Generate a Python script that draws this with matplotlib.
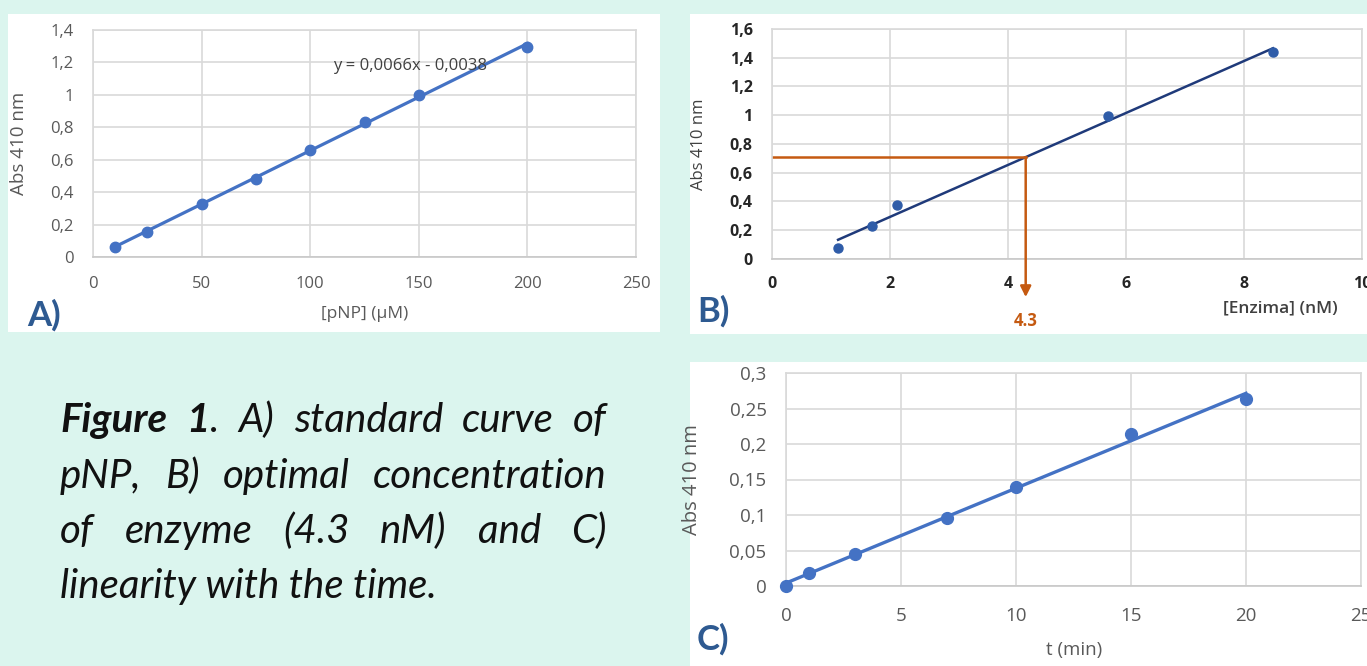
import numpy as np
import matplotlib
matplotlib.use("Agg")
import matplotlib.pyplot as plt
from matplotlib.patches import Rectangle

# A) pNP standard curve
pnp_conc = [10, 25, 50, 75, 100, 125, 150, 200]
pnp_abs = [0.060, 0.152, 0.327, 0.481, 0.660, 0.833, 0.997, 1.293]
pnp_slope = 0.0066
pnp_intercept = -0.0038
pnp_equation = "y = 0,0066x - 0,0038"
pnp_xticks = [0, 50, 100, 150, 200, 250]
pnp_yticks = [0, 0.2, 0.4, 0.6, 0.8, 1.0, 1.2, 1.4]
pnp_yticklabels = ["0", "0,2", "0,4", "0,6", "0,8", "1", "1,2", "1,4"]

# B) enzyme concentration
enz_conc = [1.12, 1.69, 2.12, 5.69, 8.49]
enz_abs = [0.077, 0.230, 0.373, 0.993, 1.438]
enz_optimal = 4.3
enz_xticks = [0, 2, 4, 6, 8, 10]
enz_yticks = [0, 0.2, 0.4, 0.6, 0.8, 1.0, 1.2, 1.4, 1.6]
enz_yticklabels = ["0", "0,2", "0,4", "0,6", "0,8", "1", "1,2", "1,4", "1,6"]

# C) linearity with time
time_min = [0, 1, 3, 7, 10, 15, 20]
time_abs = [0.000, 0.0187, 0.0455, 0.0962, 0.139, 0.214, 0.264]
time_xticks = [0, 5, 10, 15, 20, 25]
time_yticks = [0, 0.05, 0.10, 0.15, 0.20, 0.25, 0.30]
time_yticklabels = ["0", "0,05", "0,1", "0,15", "0,2", "0,25", "0,3"]

caption_lines = [
    [[("Figure", "bold")], [("1", "bold"), (".", "normal")], [("A)", "normal")],
     [("standard", "normal")], [("curve", "normal")], [("of", "normal")]],
    [[("pNP,", "normal")], [("B)", "normal")], [("optimal", "normal")],
     [("concentration", "normal")]],
    [[("of", "normal")], [("enzyme", "normal")], [("(4.3", "normal")],
     [("nM)", "normal")], [("and", "normal")], [("C)", "normal")]],
]
caption_last = "linearity with the time."

MINT = "#dbf5ee"
EXCEL_BLUE = "#4472c4"
NAVY = "#1f3a7a"
ORANGE = "#c55a11"
GRID = "#d9d9d9"
LABEL_BLUE = "#2e5a91"
TICK_FONT = "Open Sans"
TEXT_FONT = "Lato"

W, H = 1367, 666
fig = plt.figure(figsize=(W / 100, H / 100), dpi=100, facecolor=MINT)


def box(x0, y0, x1, y1):
    fig.add_artist(Rectangle((x0 / W, 1 - y1 / H), (x1 - x0) / W, (y1 - y0) / H,
                             transform=fig.transFigure, facecolor="white",
                             edgecolor="none", zorder=0))


def make_axes(x0, y0, x1, y1):
    ax = fig.add_axes([x0 / W, 1 - y1 / H, (x1 - x0) / W, (y1 - y0) / H])
    ax.set_facecolor("white")
    ax.grid(True, color=GRID, lw=1.2)
    ax.set_axisbelow(True)
    for side in ax.spines.values():
        side.set_color(GRID)
        side.set_linewidth(1.2)
    ax.spines["bottom"].set_color("#c8c8c8")
    ax.tick_params(length=0)
    return ax


# white panels
box(8, 14, 660, 332)
box(690, 14, W, 334)
box(690, 362, W, H)

# ---- A ----
axA = make_axes(93, 30, 636, 257)
xfit = np.array([pnp_conc[0], pnp_conc[-1]])
axA.plot(xfit, pnp_slope * xfit + pnp_intercept, color=EXCEL_BLUE, lw=2.3, zorder=2)
axA.plot(pnp_conc, pnp_abs, "o", color=EXCEL_BLUE, ms=7.5, zorder=3)
axA.set_xlim(0, 250)
axA.set_ylim(0, 1.4)
axA.set_xticks(pnp_xticks)
axA.set_yticks(pnp_yticks, pnp_yticklabels)
axA.tick_params(axis="y", pad=14, labelsize=12, labelcolor="#595959")
axA.tick_params(axis="x", pad=14, labelsize=12, labelcolor="#595959")
for lab in axA.get_xticklabels() + axA.get_yticklabels():
    lab.set_family(TICK_FONT)
axA.text(146, 1.18, pnp_equation, ha="center", va="center", fontsize=12,
         color="#404040", family=TICK_FONT)
axA.set_ylabel("Abs 410 nm", fontsize=13.5, color="#595959", family=TICK_FONT)
axA.yaxis.set_label_coords(-0.12, 0.5)
axA.set_xlabel("[pNP] (µM)", fontsize=12.5, color="#595959", family=TICK_FONT)
axA.xaxis.set_label_coords(0.5, -0.215)

# ---- B ----
axB = make_axes(772, 29, 1362, 259)
kb = np.polyfit(enz_conc, enz_abs, 1)
xb = np.array([enz_conc[0], enz_conc[-1]])
axB.plot(xb, np.polyval(kb, xb), color=NAVY, lw=1.8, zorder=2)
axB.plot(enz_conc, enz_abs, "o", color="#2f5ca8", ms=6.5, zorder=3)
y_opt = np.polyval(kb, enz_optimal)
axB.plot([0, enz_optimal], [y_opt, y_opt], color=ORANGE, lw=1.8, zorder=2)
axB.annotate("", xy=(enz_optimal, -0.265), xytext=(enz_optimal, y_opt),
             arrowprops=dict(arrowstyle="-|>", color=ORANGE, lw=1.8,
                             mutation_scale=16, shrinkA=0, shrinkB=0),
             annotation_clip=False, zorder=4)
axB.text(enz_optimal, -0.43, "4.3", ha="center", va="center", fontsize=12,
         color=ORANGE, weight="bold", family=TICK_FONT, clip_on=False)
axB.set_xlim(0, 10)
axB.set_ylim(0, 1.6)
axB.set_xticks(enz_xticks)
axB.set_yticks(enz_yticks, enz_yticklabels)
axB.tick_params(axis="y", pad=14, labelsize=11.5, labelcolor="#262626")
axB.tick_params(axis="x", pad=12, labelsize=11.5, labelcolor="#262626")
for lab in axB.get_xticklabels() + axB.get_yticklabels():
    lab.set_family(TICK_FONT)
    lab.set_weight("bold")
axB.set_ylabel("Abs 410 nm", fontsize=12, color="#404040", family=TICK_FONT)
axB.yaxis.set_label_coords(-0.11, 0.5)
axB.set_xlabel("[Enzima] (nM)", fontsize=12.5, color="#404040", family=TICK_FONT,
               weight="semibold")
axB.xaxis.set_label_coords(0.861, -0.18)

# ---- C ----
axC = make_axes(786, 373, 1361, 586)
kc = np.polyfit(time_min, time_abs, 1)
xc = np.array([time_min[0], time_min[-1]])
axC.plot(xc, np.polyval(kc, xc), color=EXCEL_BLUE, lw=2.4, zorder=2)
axC.plot(time_min, time_abs, "o", color=EXCEL_BLUE, ms=8.5, zorder=3, clip_on=False)
axC.set_xlim(0, 25)
axC.set_ylim(0, 0.3)
axC.set_xticks(time_xticks)
axC.set_yticks(time_yticks, time_yticklabels)
axC.tick_params(axis="y", pad=14, labelsize=13.5, labelcolor="#595959")
axC.tick_params(axis="x", pad=15, labelsize=13.5, labelcolor="#595959")
for lab in axC.get_xticklabels() + axC.get_yticklabels():
    lab.set_family(TICK_FONT)
axC.set_ylabel("Abs 410 nm", fontsize=14.5, color="#595959", family=TICK_FONT)
axC.yaxis.set_label_coords(-0.146, 0.5)
axC.set_xlabel("t (min)", fontsize=13.5, color="#595959", family=TICK_FONT)
axC.xaxis.set_label_coords(0.501, -0.26)

# panel letters
for letter, (px, py) in {"A)": (27, 326), "B)": (697, 322), "C)": (697, 650)}.items():
    fig.text(px / W, 1 - py / H, letter, fontsize=25, weight="bold",
             color=LABEL_BLUE, family=TEXT_FONT, ha="left", va="baseline")

# justified caption
cap_size = 29
x_left, x_right = 60, 607
baselines = [432, 488, 543, 598]
renderer = fig.canvas.get_renderer()


def seg_width(text, weight):
    t = fig.text(0, 0, text, fontsize=cap_size, style="italic", weight=weight,
                 family=TEXT_FONT)
    w = t.get_window_extent(renderer).width
    t.remove()
    return w


for words, base in zip(caption_lines, baselines):
    widths = [[seg_width(s, wt) for s, wt in word] for word in words]
    total = sum(sum(w) for w in widths)
    gap = (x_right - x_left - total) / (len(words) - 1)
    x = x_left
    for word, ws in zip(words, widths):
        for (s, wt), w in zip(word, ws):
            fig.text(x / W, 1 - base / H, s, fontsize=cap_size, style="italic",
                     weight=wt, family=TEXT_FONT, color="#111111", va="baseline")
            x += w
        x += gap

fig.text(x_left / W, 1 - baselines[3] / H, caption_last, fontsize=cap_size,
         style="italic", family=TEXT_FONT, color="#111111", va="baseline")

fig.savefig("out.png", dpi=100, facecolor=MINT)
